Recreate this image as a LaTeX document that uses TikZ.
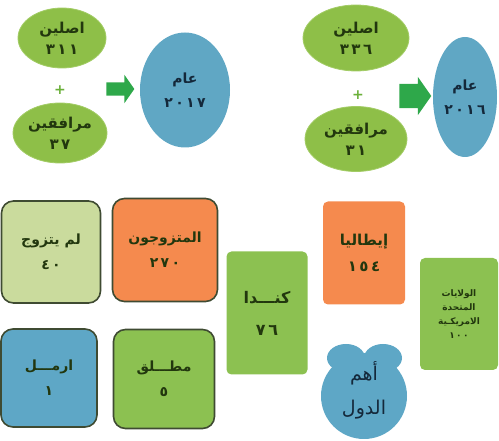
\documentclass[tikz,border=0pt]{standalone}
\usepackage{fontspec}
\newfontfamily\arabicfont[Script=Arabic]{DejaVu Sans}
\TeXXeTstate=1
\usepackage{tikz}
\usetikzlibrary{shapes, arrows}
\definecolor{ovalgreen}{HTML}{8EBF48}
\definecolor{ovaledge}{HTML}{A3CC66}
\definecolor{ovaltext}{HTML}{22370E}
\definecolor{yearblue}{HTML}{60A7C4}
\definecolor{yeartext}{HTML}{14283A}
\definecolor{arrowgreen}{HTML}{2EA84A}
\definecolor{plusgreen}{HTML}{6BB03A}
\definecolor{pale}{HTML}{CADB9D}
\definecolor{orange}{HTML}{F58A4E}
\definecolor{cardblue}{HTML}{5EA7C6}
\definecolor{cardgreen}{HTML}{8CC151}
\definecolor{cardedge}{HTML}{3F4B32}
\newcommand{\arline}[1]{\beginR #1\endR}
\tikzstyle{oval} = [ellipse, fill=ovalgreen, draw=ovaledge, line width=0.8pt, inner sep=0,
                    text=ovaltext, align=center, font=\arabicfont\bfseries\fontsize{15}{21}\selectfont]
\tikzstyle{yearoval} = [ellipse, fill=yearblue, inner sep=0, text=yeartext, align=center,
                    font=\arabicfont\bfseries\fontsize{14}{24}\selectfont]
\tikzstyle{pointer} = [single arrow, fill=arrowgreen, inner xsep=0, single arrow tip angle=110]
\tikzstyle{plus} = [text=plusgreen, font=\arabicfont\bfseries\fontsize{14}{14}\selectfont]
\tikzstyle{card} = [rectangle, rounded corners=12pt, draw=cardedge, line width=1.6pt, inner sep=0,
                    text=ovaltext, align=center, font=\arabicfont\bfseries\fontsize{14}{25}\selectfont]
\tikzstyle{tile} = [rectangle, rounded corners=5pt, inner sep=0, text=ovaltext, align=center,
                    font=\arabicfont\bfseries\fontsize{15}{26}\selectfont]

\begin{document}
\begin{tikzpicture}[x=1pt, y=-1pt]
				\useasboundingbox (0,0) rectangle (499,441);

				% year 2017
				\node (Asleen17) [oval, minimum width=88, minimum height=60] at (62,38) {\arline{اصلين}\\٣\,١\,١};
				\node (Plus17) [plus] at (60,90) {+};
				\node (Murafiq17) [oval, minimum width=94, minimum height=60] at (60,133) {\arline{مرافقين}\\٣\,٧};
				\node (Arrow17) [pointer, minimum height=28, inner ysep=6.5, single arrow head extend=7.5] at (118,89) {};
				\node (Year17) [yearoval, minimum width=90, minimum height=115] at (185,90) {\arline{عام}\\٢\,٠\,١\,٧};

				% year 2016
				\node (Asleen16) [oval, minimum width=106, minimum height=66] at (356,38) {\arline{اصلين}\\٣\,٣\,٦};
				\node (Plus16) [plus] at (358,95) {+};
				\node (Murafiq16) [oval, minimum width=102, minimum height=65] at (356,139) {\arline{مرافقين}\\٣\,١};
				\node (Arrow16) [pointer, minimum height=32, inner ysep=12, single arrow head extend=7] at (411,96) {};
				\node (Year16) [yearoval, minimum width=64, minimum height=120] at (465,97) {\arline{عام}\\٢\,٠\,١\,٦};

				% marital status
				\node (Single) [card, fill=pale, minimum width=99, minimum height=102] at (51,252) {\arline{لم يتزوج}\\٤\,٠};
				\node (Married) [card, fill=orange, minimum width=105, minimum height=103] at (165,250) {\arline{المتزوجون}\\٢\,٧\,٠};
				\node (Widowed) [card, fill=cardblue, minimum width=96, minimum height=98] at (49,378) {\arline{ارمـــل}\\١};
				\node (Divorced) [card, fill=cardgreen, minimum width=101, minimum height=99] at (164,379) {\arline{مطـــلق}\\٥};

				% countries
				\node (Canada) [tile, fill=cardgreen, minimum width=81, minimum height=123,
				               font=\arabicfont\bfseries\fontsize{16}{32}\selectfont] at (267,313) {\arline{كنـــدا}\\٧\,٦};
				\node (Italy) [tile, fill=orange, minimum width=82, minimum height=103] at (364,253) {\arline{إيطاليا}\\١\,٥\,٤};
				\node (USA) [tile, fill=cardgreen, minimum width=78, minimum height=112,
				            font=\arabicfont\bfseries\fontsize{9}{14}\selectfont] at (459,314)
				            {\arline{الولايات}\\\arline{المتحدة}\\\arline{الامريكـية}\\١\,٠\,٠};

				% main countries badge
				\fill [cardblue] (364,396) circle (43pt);
				\fill [cardblue] (346,358) ellipse [x radius=19pt, y radius=14pt];
				\fill [cardblue] (383,358) ellipse [x radius=19pt, y radius=14pt];
				\node (Countries) [text=yeartext, align=center, font=\arabicfont\fontsize{19}{34}\selectfont]
				      at (364,390) {\arline{أهم}\\\arline{الدول}};
			\end{tikzpicture}
\end{document}
